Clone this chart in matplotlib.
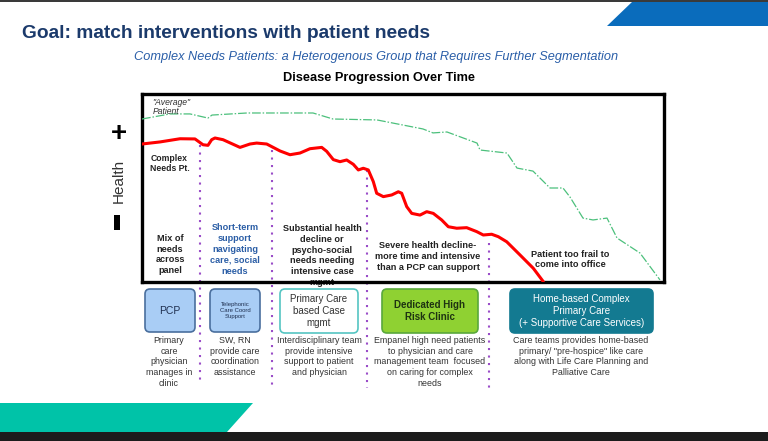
import matplotlib.pyplot as plt
from matplotlib.patches import Polygon, FancyBboxPatch, Rectangle

# disease progression curves (time 0-100 across the box, health 0-100 up)
red_t = [0, 3.45, 7.28, 10.15, 11.69, 12.64, 13.35, 13.98, 15.52, 18.77, 20.69, 21.97, 23.89,
         26.44, 28.35, 30.27, 32.18, 34.43, 35.38, 36.65, 37.93, 39.21, 40.48, 41.44, 42.39,
         43.35, 44.31, 44.96, 46.23, 47.84, 49.10, 49.75, 50.71, 51.67, 53.26, 54.54, 55.80,
         57.41, 58.68, 60.29, 62.20, 64.12, 65.38, 66.99, 68.26, 69.87, 72.41, 74.96, 76.88]
red_h = [73.4, 74.5, 76.2, 76.1, 73.0, 72.7, 75.7, 76.6, 75.7, 71.6, 73.4, 73.9, 73.4,
         69.7, 67.7, 68.6, 70.9, 71.6, 69.5, 65.1, 64.0, 64.9, 62.6, 59.6, 60.5,
         59.6, 53.4, 47.2, 45.4, 46.3, 48.0, 47.2, 40.1, 36.5, 35.6, 37.4, 36.5,
         33.0, 29.4, 28.6, 28.9, 26.8, 25.0, 25.4, 24.1, 21.4, 14.4, 7.3, 0.2]

green_t = [0, 5.36, 9.20, 12.64, 13.41, 20.11, 32.76, 36.59, 45.02, 53.83, 55.75, 58.43, 64.18,
           64.75, 69.92, 71.84, 74.90, 78.16, 80.65, 81.99, 84.48, 86.40, 89.08, 91.00, 95.40, 99.23]
green_h = [86.7, 89.4, 89.4, 87.2, 88.8, 89.9, 89.9, 86.7, 86.2, 81.4, 79.3, 79.8, 73.9,
           70.2, 68.6, 60.6, 59.0, 50.0, 50.0, 45.2, 34.0, 33.0, 34.0, 23.4, 15.4, 1.1]

stage_t = [11.1, 24.9, 43.1, 66.5]

stage_labels = ['Mix of\nneeds\nacross\npanel',
                'Short-term\nsupport\nnavigating\ncare, social\nneeds',
                'Substantial health\ndecline or\npsycho-social\nneeds needing\nintensive case\nmgmt',
                'Severe health decline-\nmore time and intensive\nthan a PCP can support',
                'Patient too frail to\ncome into office']

box_labels = ['PCP', 'Telephonic\nCare Coord\nSupport', 'Primary Care\nbased Case\nmgmt',
              'Dedicated High\nRisk Clinic',
              'Home-based Complex\nPrimary Care\n(+ Supportive Care Services)']

box_notes = ['Primary\ncare\nphysician\nmanages in\nclinic',
             'SW, RN\nprovide care\ncoordination\nassistance',
             'Interdisciplinary team\nprovide intensive\nsupport to patient\nand physician',
             'Empanel high need patients\nto physician and care\nmanagement team  focused\non caring for complex\nneeds',
             'Care teams provides home-based\nprimary/ "pre-hospice" like care\nalong with Life Care Planning and\nPalliative Care']

SANS = ['Liberation Sans', 'DejaVu Sans']

W, H = 768, 441
fig = plt.figure(figsize=(7.68, 4.41), dpi=100)
page = fig.add_axes([0, 0, 1, 1])
page.set_xlim(0, W)
page.set_ylim(H, 0)
page.axis('off')

# slide decorations
page.add_patch(Rectangle((0, 0), W, 2, color='#3a3a3a', lw=0))
page.add_patch(Polygon([(632, 2), (768, 2), (768, 26), (607, 26)], closed=True, color='#0a6cbc', lw=0))
page.add_patch(Polygon([(0, 403), (253, 403), (227, 432), (0, 432)], closed=True, color='#00c3a8', lw=0))
page.add_patch(Rectangle((0, 432), W, 9, color='#1c1c1c', lw=0))

page.text(22, 33, 'Goal: match interventions with patient needs', family=SANS, fontsize=13.8,
          fontweight='bold', color='#1b3a6b', va='center', ha='left')
page.text(376, 57, 'Complex Needs Patients: a Heterogenous Group that Requires Further Segmentation',
          family=SANS, fontsize=9.2, style='italic', color='#2a5ea8', va='center', ha='center')
page.text(379, 78, 'Disease Progression Over Time', family=SANS, fontsize=9.2,
          fontweight='bold', color='black', va='center', ha='center')

# health axis label
page.text(119, 134, '+', family=SANS, fontsize=20, fontweight='bold', ha='center', va='center')
page.text(119, 181, 'Health', family=SANS, fontsize=11, rotation=90, color='#333333',
          ha='center', va='center')
page.add_patch(Rectangle((113.5, 215), 6.5, 15, color='black', lw=0))

# stage descriptions inside the box
label_pos = [(170, 254.5), (235, 249.5), (322, 255.5), (428, 256.5), (570, 259.5)]
label_col = ['#222222', '#2b5ea6', '#222222', '#222222', '#222222']
for lab, (px, py), c in zip(stage_labels, label_pos, label_col):
    page.text(px, py, lab, family=SANS, fontsize=6.6, fontweight='bold', color=c,
              ha='center', va='center', linespacing=1.25, zorder=5)

# chart box
x0, x1, y0, y1 = 142, 664, 94, 282
ax = fig.add_axes([x0 / W, 1 - y1 / H, (x1 - x0) / W, (y1 - y0) / H])
ax.set_facecolor('none')
ax.set_xlim(0, 100)
ax.set_ylim(0, 100)
ax.set_xticks([])
ax.set_yticks([])
for s in ax.spines.values():
    s.set_linewidth(2.4)
    s.set_color('black')

ax.plot(green_t, green_h, color='#4cc07c', lw=0.9, ls=(0, (7, 1.5, 1.2, 1.5)), zorder=3)
ax.plot(red_t, red_h, color='#ff0000', lw=2.2, solid_joinstyle='round', solid_capstyle='round', zorder=4)

div_top = [72.9, 70.2, 59.6, 20.7]
div_bot = [-54.8, -54.8, -56.4, -56.4]
for t, a, b in zip(stage_t, div_top, div_bot):
    ax.plot([t, t], [a, b], color='#9a4dc8', lw=1.5, ls=(0, (1, 2.6)), clip_on=False, zorder=2)

ax.text(2.0, 93.3, '"Average"\nPatient', family=SANS, fontsize=6.2, style='italic', color='#333333',
        ha='left', va='center', linespacing=1.0)
ax.text(1.6, 63, 'Complex\nNeeds Pt.', family=SANS, fontsize=6.2, fontweight='bold', color='#222222',
        ha='left', va='center', linespacing=1.15)

# intervention boxes
boxes = [(145, 289, 50, 43, '#a9cdf5', '#4a6f9e', '#1f2f4f', 7.5, 'normal'),
         (210, 289, 50, 43, '#a9cdf5', '#4a6f9e', '#1f2f4f', 4.3, 'normal'),
         (280, 289, 78, 44, 'white', '#55c5c2', '#333333', 7, 'normal'),
         (382, 289, 96, 44, '#8fd132', '#5aa83c', '#1e3312', 7, 'bold'),
         (510, 289, 143, 44, '#137a91', '#137a91', 'white', 7, 'normal')]
for (bx, by, bw, bh, fc, ec, tc, fs, fw), lab in zip(boxes, box_labels):
    page.add_patch(FancyBboxPatch((bx + 5, by + 5), bw - 10, bh - 10,
                                  boxstyle='round,pad=5', fc=fc, ec=ec, lw=1.2, zorder=3))
    page.text(bx + bw / 2, by + bh / 2, lab, family=SANS, fontsize=fs, fontweight=fw, color=tc,
              ha='center', va='center', linespacing=1.25, zorder=4)

note_x = [169, 235, 319, 430, 581]
for nx, note in zip(note_x, box_notes):
    page.text(nx, 336, note, family=SANS, fontsize=6.4, color='#333333',
              ha='center', va='top', linespacing=1.25)

fig.savefig('out.png', dpi=100)
